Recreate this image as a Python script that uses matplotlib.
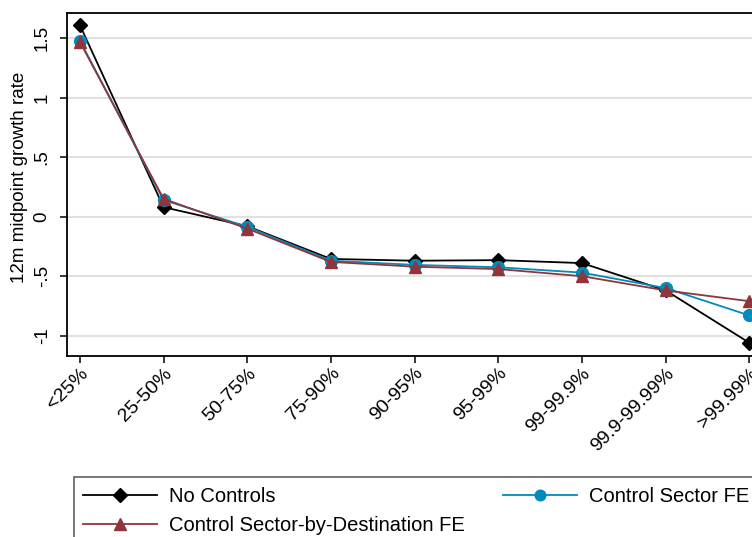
import matplotlib
matplotlib.use("Agg")
import matplotlib.pyplot as plt
from matplotlib.patches import Rectangle

plt.rcParams["font.family"] = ["Liberation Sans", "DejaVu Sans"]

# data
bins = ["<25%", "25-50%", "50-75%", "75-90%", "90-95%", "95-99%",
        "99-99.9%", "99.9-99.99%", ">99.99%"]
no_controls = [1.61, 0.08, -0.08, -0.355, -0.37, -0.365, -0.39, -0.62, -1.06]
sector_fe = [1.48, 0.14, -0.085, -0.37, -0.405, -0.425, -0.47, -0.60, -0.83]
sector_dest_fe = [1.47, 0.15, -0.10, -0.38, -0.42, -0.44, -0.50, -0.62, -0.71]

yticks = [-1, -0.5, 0, 0.5, 1, 1.5]
yticklabels = ["-1", "-.5", "0", ".5", "1", "1.5"]

BLUE = "#008bbc"
MAROON = "#90353b"
GRID = "#e1e1e1"

W, H = 752, 537
fig = plt.figure(figsize=(W / 100, H / 100), dpi=100)
fig.patch.set_facecolor("white")

# the plot region runs past the right edge of the saved picture, as in the reference
ax = fig.add_axes([67.3 / W, 1 - 355.7 / H, (762 - 67.3) / W, (355.7 - 13.3) / H])

x = list(range(1, len(bins) + 1))
h1, = ax.plot(x, no_controls, color="black", lw=1.3, marker="D", ms=7.5,
              label="No Controls", zorder=3)
h2, = ax.plot(x, sector_fe, color=BLUE, lw=1.3, marker="o", ms=8.5,
              label="Control Sector FE", zorder=4)
h3, = ax.plot(x, sector_dest_fe, color=MAROON, lw=1.3, marker="^", ms=9,
              label="Control Sector-by-Destination FE", zorder=5)

ax.set_xlim(0.85, 9.15)
ax.set_ylim(-1.168, 1.709)
ax.set_xticks(x)
ax.set_xticklabels(bins, rotation=45, ha="right", va="top", rotation_mode="anchor",
                   fontsize=14)
ax.set_yticks(yticks)
ax.set_yticklabels(yticklabels, rotation=90, va="center", fontsize=13.5)
ax.tick_params(axis="both", length=5, width=1.1, color="black")
ax.tick_params(axis="y", pad=7)
ax.tick_params(axis="x", pad=1.5)
ax.yaxis.grid(True, color=GRID, lw=1.5)
ax.set_axisbelow(True)
for s in ax.spines.values():
    s.set_linewidth(1.3)
ax.set_ylabel("12m midpoint growth rate", fontsize=13.5)
ax.yaxis.set_label_coords(-0.057, 0.52)

# legend box, also cut off at the right and bottom
fig.add_artist(Rectangle((74 / W, -0.1), (770 - 74) / W, 1 - 477 / H + 0.1,
                         transform=fig.transFigure, facecolor="white",
                         edgecolor="#606060", lw=1.2))
fig.legend(handles=[h1, h3, h2], loc="upper left",
           bbox_to_anchor=(83 / W, 1 - 487.5 / H), ncol=2, frameon=False,
           fontsize=14.5, borderpad=0, borderaxespad=0, handlelength=3.68,
           handletextpad=0.6, columnspacing=1.9, labelspacing=0.45,
           markerscale=0.9)

fig.savefig("out.png", dpi=100)
